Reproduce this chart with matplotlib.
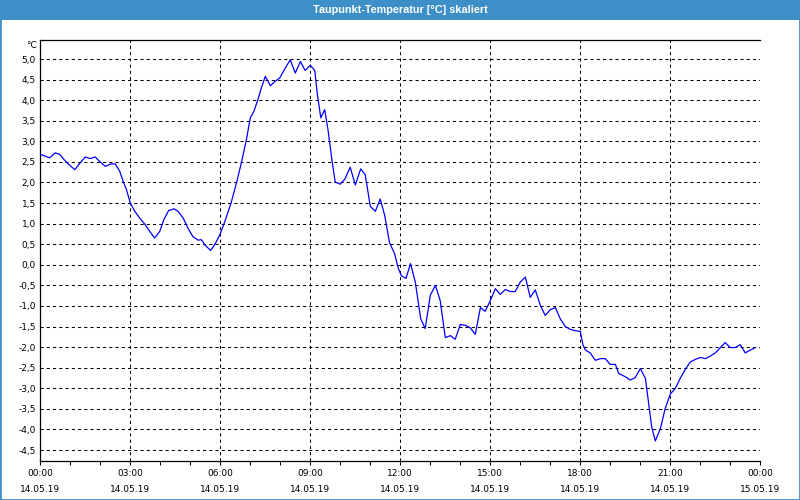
import numpy as np
import matplotlib
matplotlib.use("Agg")
import matplotlib.pyplot as plt
from matplotlib.patches import Rectangle
from matplotlib.ticker import MultipleLocator

title = "Taupunkt-Temperatur [°C] skaliert"
unit_label = "°C"

hours = [
    0.00, 0.17, 0.32, 0.51, 0.66, 0.82, 0.99, 1.16, 1.32, 1.51, 1.68, 1.84, 1.99,
    2.18, 2.36, 2.51, 2.66, 2.77, 2.88, 3.01, 3.16, 3.32, 3.49, 3.66, 3.82, 3.99,
    4.13, 4.29, 4.47, 4.60, 4.77, 4.93, 5.10, 5.27, 5.38, 5.51, 5.69, 5.84, 5.99,
    6.16, 6.36, 6.55, 6.71, 6.88, 7.01, 7.13, 7.27, 7.38, 7.51, 7.68, 7.84, 7.99,
    8.16, 8.34, 8.51, 8.68, 8.84, 9.01, 9.16, 9.24, 9.36, 9.49, 9.60, 9.73, 9.84,
    10.01, 10.16, 10.34, 10.51, 10.69, 10.84, 11.01, 11.18, 11.34, 11.49, 11.65,
    11.82, 11.95, 12.05, 12.20, 12.35, 12.51, 12.60, 12.69, 12.84, 13.01, 13.18,
    13.34, 13.51, 13.68, 13.84, 14.01, 14.18, 14.34, 14.51, 14.68, 14.84, 15.01,
    15.18, 15.34, 15.51, 15.68, 15.84, 16.01, 16.18, 16.34, 16.51, 16.68, 16.84,
    17.01, 17.18, 17.34, 17.51, 17.68, 17.84, 18.01, 18.10, 18.18, 18.34, 18.51,
    18.68, 18.84, 19.01, 19.18, 19.29, 19.51, 19.68, 19.84, 20.01, 20.18, 20.29,
    20.39, 20.51, 20.68, 20.84, 21.01, 21.18, 21.34, 21.51, 21.68, 21.84, 22.01,
    22.18, 22.34, 22.51, 22.68, 22.84, 23.01, 23.18, 23.34, 23.51, 23.68, 23.82,
]

dewpoint = [
    2.69, 2.64, 2.60, 2.72, 2.68, 2.54, 2.42, 2.31, 2.46, 2.62, 2.58, 2.62, 2.51,
    2.39, 2.45, 2.45, 2.27, 2.03, 1.83, 1.50, 1.30, 1.14, 0.99, 0.81, 0.65, 0.81,
    1.10, 1.32, 1.36, 1.30, 1.14, 0.89, 0.68, 0.60, 0.61, 0.47, 0.35, 0.51, 0.72,
    1.05, 1.48, 1.99, 2.47, 3.04, 3.57, 3.73, 4.03, 4.30, 4.58, 4.35, 4.46, 4.54,
    4.76, 4.98, 4.66, 4.94, 4.72, 4.85, 4.72, 4.17, 3.57, 3.77, 3.28, 2.55, 2.01,
    1.96, 2.08, 2.37, 1.94, 2.33, 2.19, 1.42, 1.30, 1.60, 1.20, 0.54,
    0.27, -0.10, -0.27, -0.33, 0.03, -0.42, -0.87, -1.31, -1.55, -0.74, -0.50,
    -0.87, -1.77, -1.72, -1.81, -1.45, -1.47, -1.53, -1.69, -1.04, -1.13, -0.87,
    -0.58, -0.72, -0.60, -0.65, -0.65, -0.42, -0.30, -0.79, -0.61, -0.99, -1.23,
    -1.09, -1.04, -1.31, -1.50, -1.57, -1.60, -1.62, -1.95, -2.07, -2.14, -2.32,
    -2.28, -2.28, -2.42, -2.42, -2.64, -2.72, -2.80, -2.74, -2.52, -2.76, -3.37,
    -3.94, -4.28, -3.98, -3.49, -3.14, -3.00, -2.76, -2.54, -2.36, -2.30, -2.25,
    -2.28, -2.22, -2.14, -2.01, -1.89, -2.01, -2.01, -1.94, -2.14, -2.07, -2.02,
]

x_tick_hours = [0, 3, 6, 9, 12, 15, 18, 21, 24]
x_tick_labels = [
    "00:00\n14.05.19", "03:00\n14.05.19", "06:00\n14.05.19", "09:00\n14.05.19",
    "12:00\n14.05.19", "15:00\n14.05.19", "18:00\n14.05.19", "21:00\n14.05.19",
    "00:00\n15.05.19",
]
y_tick_values = [5.0, 4.5, 4.0, 3.5, 3.0, 2.5, 2.0, 1.5, 1.0, 0.5, 0.0,
                 -0.5, -1.0, -1.5, -2.0, -2.5, -3.0, -3.5, -4.0, -4.5]

W, H = 800, 500
blue = "#3d8fc7"
fs = 6.5

fig = plt.figure(figsize=(W / 100, H / 100), dpi=100)
fig.patch.set_facecolor("white")

ax = fig.add_axes([40 / W, 1 - 461 / H, 720 / W, 421 / H])
ax.set_facecolor("white")
ax.plot(hours, dewpoint, color="#0000ff", lw=0.9, zorder=3)

ax.set_xlim(0, 24)
ax.set_ylim(-4.767, 5.462)

ax.set_yticks(y_tick_values)
ax.set_yticklabels([f"{v + 0.0:.1f}".replace(".", ",") for v in y_tick_values])
ax.set_xticks(x_tick_hours)
ax.set_xticklabels(x_tick_labels, linespacing=1.9)
ax.xaxis.set_minor_locator(MultipleLocator(1))

ax.tick_params(axis="y", length=0, pad=3, labelsize=fs, colors="black")
ax.tick_params(axis="x", which="both", length=3, width=0.75, direction="out",
               pad=3, labelsize=fs, colors="black")

dash = (0, (3, 3))
for y in y_tick_values:
    ax.axhline(y, color="black", lw=0.75, linestyle=dash, zorder=1)
for h in x_tick_hours[1:-1]:
    ax.axvline(h, color="black", lw=0.75, linestyle=dash, zorder=1)

for s in ["left", "top", "bottom"]:
    ax.spines[s].set_linewidth(0.9)
    ax.spines[s].set_color("black")
ax.spines["right"].set_visible(False)

fig.text(37 / W, 1 - 45 / H, unit_label, ha="right", va="center", fontsize=fs)

# title bar and border
fig.patches.append(Rectangle((0, 1 - 20 / H), 1, 20 / H, transform=fig.transFigure,
                             facecolor=blue, edgecolor="none", zorder=0))
fig.patches.append(Rectangle((0, 0), 1, 1, transform=fig.transFigure,
                             facecolor="none", edgecolor=blue, lw=2.0, zorder=5))
fig.text(0.5, 1 - 10 / H, title, ha="center", va="center", color="white",
         fontsize=7.8, fontweight="bold", family="Liberation Sans")

fig.savefig("out.png", dpi=100)
